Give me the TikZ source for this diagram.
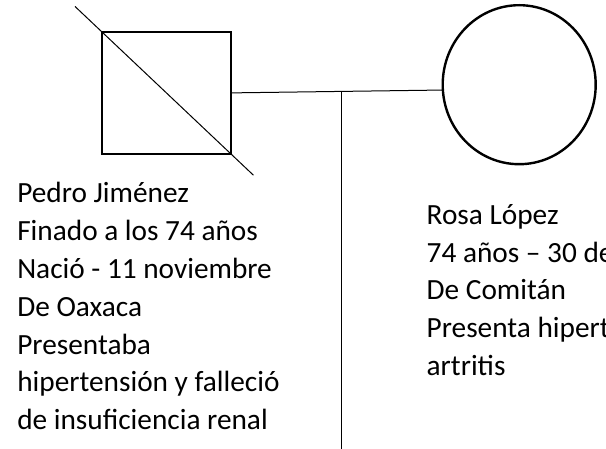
\documentclass[tikz,border=0pt]{standalone}
\usepackage{fontspec}
\setmainfont{Carlito}
\usepackage{tikz}
\usetikzlibrary{calc,shapes.geometric}

\begin{document}
\begin{tikzpicture}[x=1pt, y=-1pt, every node/.style={outer sep=0pt, inner sep=0pt},
        simbolo/.style={draw, line width=2.4pt},
        linea/.style={line width=1pt},
        texto/.style={align=left, anchor=base west, font=\fontsize{29.3}{38}\selectfont}]
            \useasboundingbox (0,0) rectangle (606,449);
            \node[simbolo, minimum width=129pt, minimum height=122pt] (padre) at (166.4, 92.9) {};
            \node[simbolo, ellipse, minimum width=153pt, minimum height=159pt] (madre) at (519.2, 84.7) {};
            \draw[linea] (padre.north west) -- (padre.south east) [shorten <=-37pt, shorten >=-31pt];
            \draw[linea] (padre.east) -- (madre.184);
            \coordinate (union) at ($(padre.east)!0.52!(madre.184)$);
            \coordinate (hijos) at (union |- 0,449);
            \draw[linea] (union) -- (hijos);
            \node[texto] (datosP) at (17.3, 430) {Pedro Jiménez\\Finado a los 74 años\\Nació - 11 noviembre\\De Oaxaca\\Presentaba\\hipertensión y falleció\\de insuficiencia renal};
            \node[texto] (datosM) at (426.7, 376) {Rosa López\\74 años – 30 de\\De Comitán\\Presenta hipert\\artritis};

        \end{tikzpicture}
\end{document}
